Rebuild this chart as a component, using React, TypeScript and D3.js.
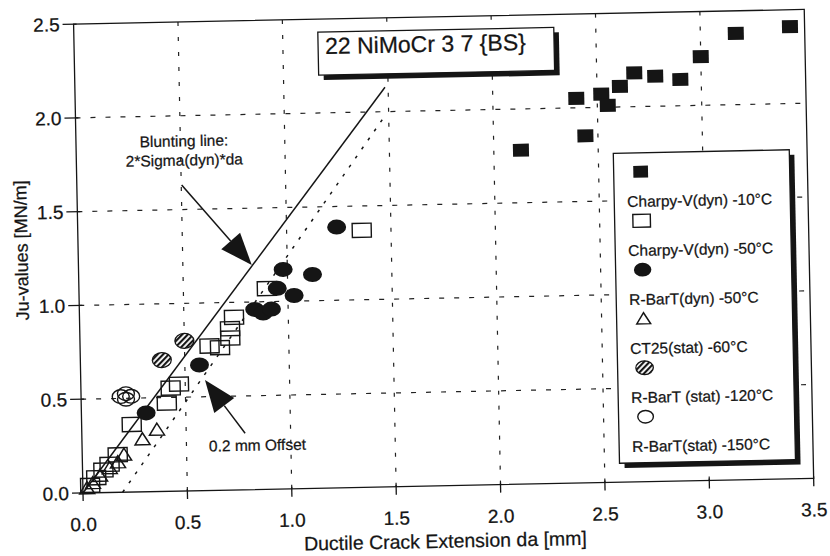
import React from "react";
import * as d3 from "d3";

// ---------- data (da [mm], Ju [MN/m]) ----------
const sqFilledDa = [2.13, 2.44, 2.4, 2.52, 2.55, 2.61, 2.68, 2.78, 2.9, 3.0, 3.17, 3.43];
const sqFilledJ = [1.78, 1.85, 2.05, 2.07, 2.01, 2.11, 2.18, 2.16, 2.14, 2.26, 2.38, 2.41];

const sqOpenDa = [1.36, 0.9, 0.74, 0.72, 0.72, 0.62, 0.67, 0.47, 0.43, 0.41, 0.24, 0.17, 0.13, 0.1, 0.065, 0.035];
const sqOpenJ = [1.37, 1.07, 0.92, 0.86, 0.81, 0.77, 0.76, 0.57, 0.55, 0.47, 0.36, 0.2, 0.15, 0.12, 0.08, 0.04];

const ellDa = [1.24, 0.98, 1.12, 0.95, 1.03, 0.84, 0.88, 0.92, 0.57, 0.31];
const ellJ = [1.39, 1.17, 1.14, 1.07, 1.03, 0.96, 0.94, 0.96, 0.67, 0.42];

const triDa = [0.36, 0.29, 0.2, 0.17, 0.13, 0.083, 0.048, 0.02];
const triJ = [0.33, 0.28, 0.2, 0.16, 0.13, 0.09, 0.052, 0.025];

const hatchDa = [0.5, 0.39];
const hatchJ = [0.8, 0.7];

const ringDa = [0.19, 0.215, 0.24, 0.215];
const ringJ = [0.51, 0.525, 0.51, 0.495];

const bluntDa = [0, 1.485];
const bluntJ = [0, 2.13];
const offsetDa = [0.19, 1.49];
const offsetJ = [0, 1.99];

const xTicks = [0, 0.5, 1.0, 1.5, 2.0, 2.5, 3.0, 3.5];
const yTicks = [0, 0.5, 1.0, 1.5, 2.0, 2.5];
const xGrid = [0.5, 1.0, 1.5, 2.0, 2.5, 3.0];
const yGrid = [0.5, 1.0, 1.5, 2.0];

const legendLabels = [
  "Charpy-V(dyn) -10°C",
  "Charpy-V(dyn) -50°C",
  "R-BarT(dyn) -50°C",
  "CT25(stat) -60°C",
  "R-BarT (stat) -120°C",
  "R-BarT(stat) -150°C",
];
const legendMarkers = ["sqFilled", "sqOpen", "ell", "tri", "hatch", "ring"];

const titleText = "22 NiMoCr 3 7 {BS}";
const xTitle = "Ductile Crack Extension da [mm]";
const yTitle = "Ju-values [MN/m]";
const bluntText1 = "Blunting line:";
const bluntText2 = "2*Sigma(dyn)*da";
const bluntLabelPos = [0.517, 1.866, 1.764];
const bluntArrow = { tail: [0.502, 1.631], tip: [0.83, 1.197] };
const offsetText = "0.2 mm Offset";
const offsetLabelPos = [0.84, 0.237];
const offsetArrow = { tail: [0.782, 0.301], tip: [0.595, 0.589] };

// ---------- layout ----------
const W = 830;
const H = 556;
const FONT = "'Liberation Sans', Arial, Helvetica, sans-serif";
const INK = "#151515";
const TXT = { fill: INK, stroke: INK, strokeWidth: 0.25 };

const x = d3.scaleLinear().domain([0, 3.5]).range([83, 813.8]);
const y = d3.scaleLinear().domain([0, 2.5]).range([493, 24]);

function Marker({ kind, cx, cy, s = 1 }: { kind: string; cx: number; cy: number; s?: number }) {
  switch (kind) {
    case "sqFilled":
      return <rect x={cx - 8 * s} y={cy - 6.5 * s} width={16 * s} height={13 * s} fill={INK} />;
    case "sqOpen":
      return (
        <rect x={cx - 9.5 * s} y={cy - 7 * s} width={19 * s} height={14 * s} fill="none" stroke={INK} strokeWidth={1.4} />
      );
    case "ell":
      return <ellipse cx={cx} cy={cy} rx={9.5 * s} ry={7.5 * s} fill={INK} />;
    case "tri": {
      const p = d3.path();
      p.moveTo(cx, cy - 6.5 * s);
      p.lineTo(cx + 7.5 * s, cy + 5.5 * s);
      p.lineTo(cx - 7.5 * s, cy + 5.5 * s);
      p.closePath();
      return <path d={p.toString()} fill="none" stroke={INK} strokeWidth={1.5} strokeLinejoin="miter" />;
    }
    case "hatch":
      return <ellipse cx={cx} cy={cy} rx={9.5 * s} ry={7.5 * s} fill="url(#hatch)" stroke={INK} strokeWidth={1.3} />;
    case "ring":
      return <ellipse cx={cx} cy={cy} rx={8.5 * s} ry={6.8 * s} fill="none" stroke={INK} strokeWidth={1.4} />;
    default:
      return null;
  }
}

function Arrow({ tail, tip }: { tail: number[]; tip: number[] }) {
  const sx = x(tail[0]);
  const sy = y(tail[1]);
  const tx = x(tip[0]);
  const ty = y(tip[1]);
  const len = Math.hypot(tx - sx, ty - sy);
  const ux = (tx - sx) / len;
  const uy = (ty - sy) / len;
  const headLen = 32;
  const hw = 12.5;
  const bx = tx - ux * headLen;
  const by = ty - uy * headLen;
  const nx = -uy;
  const ny = ux;
  const p = d3.path();
  p.moveTo(tx, ty);
  p.lineTo(bx + nx * hw, by + ny * hw);
  p.lineTo(bx - nx * hw, by - ny * hw);
  p.closePath();
  return (
    <g>
      <line x1={sx} y1={sy} x2={bx} y2={by} stroke={INK} strokeWidth={1.5} />
      <path d={p.toString()} fill={INK} />
    </g>
  );
}

export default function App() {
  const x0 = x(0);
  const x1 = x(3.5);
  const y0 = y(0);
  const y1 = y(2.5);
  const line = d3
    .line<[number, number]>()
    .x((d) => x(d[0]))
    .y((d) => y(d[1]));

  const series = [
    { kind: "sqFilled", da: sqFilledDa, j: sqFilledJ },
    { kind: "sqOpen", da: sqOpenDa, j: sqOpenJ },
    { kind: "tri", da: triDa, j: triJ },
    { kind: "ring", da: ringDa, j: ringJ },
    { kind: "hatch", da: hatchDa, j: hatchJ },
    { kind: "ell", da: ellDa, j: ellJ },
  ];

  // legend box
  const lgX = 620;
  const lgY = 164;
  const lgW = 176;
  const lgH = 310;
  // title box
  const tbX = 327;
  const tbY = 37;
  const tbW = 236;
  const tbH = 43;

  return (
    <svg
      width={W}
      height={H}
      viewBox={`0 0 ${W} ${H}`}
      style={{ position: "absolute", left: 0, top: 0, background: "#fff" }}
      fontFamily={FONT}
    >
      <defs>
        <pattern id="hatch" patternUnits="userSpaceOnUse" width="4" height="4" patternTransform="rotate(45)">
          <rect width="4" height="4" fill="#fff" />
          <line x1="1" y1="0" x2="1" y2="4" stroke={INK} strokeWidth="2.3" />
        </pattern>
      </defs>
      <rect width={W} height={H} fill="#fff" />
      <g transform={`rotate(-1.15, ${x0}, ${y0})`}>
        {/* grid */}
        {xGrid.map((v) => (
          <line key={"gx" + v} x1={x(v)} x2={x(v)} y1={y0} y2={y1} stroke="#222" strokeWidth={1.2} strokeDasharray="4,11" />
        ))}
        {yGrid.map((v) => (
          <line key={"gy" + v} x1={x0} x2={x1} y1={y(v)} y2={y(v)} stroke="#222" strokeWidth={1.2} strokeDasharray="5,10" />
        ))}

        {/* blunting & offset lines */}
        <path
          d={line(bluntDa.map((d, i) => [d, bluntJ[i]]) as [number, number][]) || ""}
          fill="none"
          stroke={INK}
          strokeWidth={1.5}
        />
        <path
          d={line(offsetDa.map((d, i) => [d, offsetJ[i]]) as [number, number][]) || ""}
          fill="none"
          stroke={INK}
          strokeWidth={1.5}
          strokeDasharray="3,8"
        />

        {/* data */}
        {series.map((s) =>
          s.da.map((d, i) => <Marker key={s.kind + i} kind={s.kind} cx={x(d)} cy={y(s.j[i])} />)
        )}

        {/* frame */}
        <rect x={x0} y={y1} width={x1 - x0} height={y0 - y1} fill="none" stroke={INK} strokeWidth={1.3} />
        {yTicks.map((v) => (
          <line key={"ty" + v} x1={x0 - 11} x2={x0 + 3} y1={y(v)} y2={y(v)} stroke={INK} strokeWidth={1.3} />
        ))}
        {xTicks.map((v) => (
          <line key={"tx" + v} x1={x(v)} x2={x(v)} y1={y0 - 2} y2={y0 + 8} stroke={INK} strokeWidth={1.3} />
        ))}
        {yTicks.map((v) => (
          <text key={"ly" + v} x={x0 - 14} y={y(v)} dy="0.36em" textAnchor="end" fontSize={19} {...TXT}>
            {d3.format(".1f")(v)}
          </text>
        ))}
        {xTicks.map((v) => (
          <text key={"lx" + v} x={x(v)} y={y0 + 38} textAnchor="middle" fontSize={19} {...TXT}>
            {d3.format(".1f")(v)}
          </text>
        ))}
        <text x={(x0 + x1) / 2 - 4} y={y0 + 62} textAnchor="middle" fontSize={19.5} {...TXT}>
          {xTitle}
        </text>
        <text
          transform={`translate(26, ${y(1.3)}) rotate(-90)`}
          textAnchor="middle"
          dy="0.36em"
          fontSize={18}
          {...TXT}
        >
          {yTitle}
        </text>

        {/* title box */}
        <rect x={tbX + 5} y={tbY + 5} width={tbW} height={tbH} fill={INK} />
        <rect x={tbX} y={tbY} width={tbW} height={tbH} fill="#fff" stroke={INK} strokeWidth={1.3} />
        <text x={tbX + 7} y={tbY + 22} fontSize={23} {...TXT}>
          {titleText}
        </text>

        {/* annotations */}
        <text x={x(bluntLabelPos[0])} y={y(bluntLabelPos[1])} dy="0.36em" textAnchor="middle" fontSize={15.5} {...TXT}>
          {bluntText1}
        </text>
        <text x={x(bluntLabelPos[0])} y={y(bluntLabelPos[2])} dy="0.36em" textAnchor="middle" fontSize={15.5} {...TXT}>
          {bluntText2}
        </text>
        <Arrow tail={bluntArrow.tail} tip={bluntArrow.tip} />
        <text x={x(offsetLabelPos[0])} y={y(offsetLabelPos[1])} dy="0.36em" textAnchor="middle" fontSize={15.5} {...TXT}>
          {offsetText}
        </text>
        <Arrow tail={offsetArrow.tail} tip={offsetArrow.tip} />

        {/* legend */}
        <rect x={lgX + 5} y={lgY + 5} width={lgW} height={lgH} fill={INK} />
        <rect x={lgX} y={lgY} width={lgW} height={lgH} fill="#fff" stroke={INK} strokeWidth={1.3} />
        {legendMarkers.map((k, i) => (
          <Marker key={"lm" + i} kind={k} cx={lgX + 27} cy={lgY + 19 + i * 49} s={0.92} />
        ))}
        {legendLabels.map((t, i) => (
          <text key={"ll" + i} x={lgX + 13} y={lgY + 48.5 + i * 49} dy="0.36em" fontSize={15.5} {...TXT}>
            {t}
          </text>
        ))}
      </g>
    </svg>
  );
}
